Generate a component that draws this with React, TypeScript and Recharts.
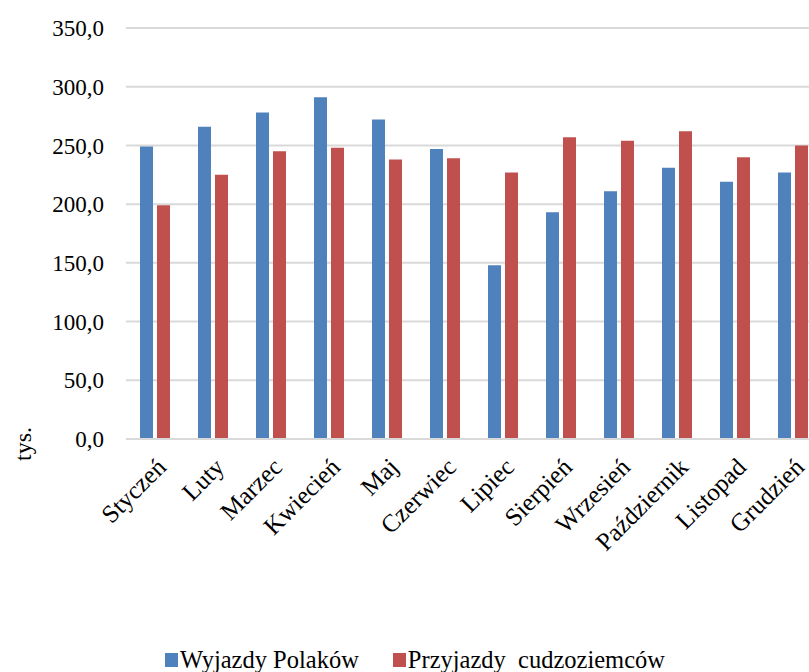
import { BarChart, Bar, XAxis, YAxis, CartesianGrid } from "recharts";

const months = [
  "Styczeń", "Luty", "Marzec", "Kwiecień", "Maj", "Czerwiec",
  "Lipiec", "Sierpień", "Wrzesień", "Październik", "Listopad", "Grudzień",
];
const wyjazdyPolakow = [249, 266, 278, 291, 272, 247, 148, 193, 211, 231, 219, 227];
const przyjazdyCudzoziemcow = [199, 225, 245, 248, 238, 239, 227, 257, 254, 262, 240, 250];
const yTicks = [0, 50, 100, 150, 200, 250, 300, 350];

const data = months.map((m, i) => ({
  month: m,
  pl: wyjazdyPolakow[i],
  fx: przyjazdyCudzoziemcow[i],
}));

const FONT = '"Liberation Serif", "Times New Roman", serif';
const BLUE = "#4F81BD";
const RED = "#C0504D";

const fmt = (v: number) => v.toFixed(1).replace(".", ",");

export default function App() {
  return (
    <div
      style={{
        position: "fixed",
        left: 0,
        top: 0,
        width: 809,
        height: 672,
        overflow: "hidden",
        background: "#fff",
        fontFamily: FONT,
      }}
    >
      <BarChart
        width={830}
        height={672}
        data={data}
        margin={{ top: 28, right: 8, bottom: 0, left: 0 }}
        barGap={4}
        barSize={13}
        style={{ fontFamily: FONT }}
      >
        <CartesianGrid vertical={false} stroke="#d9d9d9" strokeWidth={2} />
        <YAxis
          domain={[0, 350]}
          ticks={yTicks}
          tickFormatter={fmt}
          width={126}
          axisLine={false}
          tickLine={false}
          tickSize={0}
          tickMargin={22}
          tick={{ fill: "#000", fontSize: 23, fontFamily: FONT }}
          interval={0}
        />
        <XAxis
          dataKey="month"
          height={233}
          interval={0}
          axisLine={{ stroke: "#d9d9d9", strokeWidth: 2 }}
          tickLine={false}
          tickSize={0}
          tickMargin={17}
          angle={-45}
          textAnchor="end"
          tick={{ fill: "#000", fontSize: 25, fontFamily: FONT }}
        />
        <Bar dataKey="pl" fill={BLUE} isAnimationActive={false} />
        <Bar dataKey="fx" fill={RED} isAnimationActive={false} />
      </BarChart>
      <div
        style={{
          position: "absolute",
          left: 23,
          top: 444,
          transform: "translate(-50%, -50%) rotate(-90deg)",
          fontSize: 24,
          whiteSpace: "nowrap",
        }}
      >
        tys.
      </div>
      <div
        style={{
          position: "absolute",
          left: 0,
          width: 830,
          top: 646,
          display: "flex",
          justifyContent: "center",
          alignItems: "center",
          gap: 34,
          fontSize: 24.5,
          lineHeight: "28px",
          whiteSpace: "pre",
        }}
      >
        <span style={{ display: "inline-flex", alignItems: "center", gap: 2 }}>
          <span style={{ width: 13, height: 14, background: BLUE, display: "inline-block" }} />
          Wyjazdy Polaków
        </span>
        <span style={{ display: "inline-flex", alignItems: "center", gap: 2 }}>
          <span style={{ width: 13, height: 14, background: RED, display: "inline-block" }} />
          {"Przyjazdy  cudzoziemców"}
        </span>
      </div>
    </div>
  );
}
